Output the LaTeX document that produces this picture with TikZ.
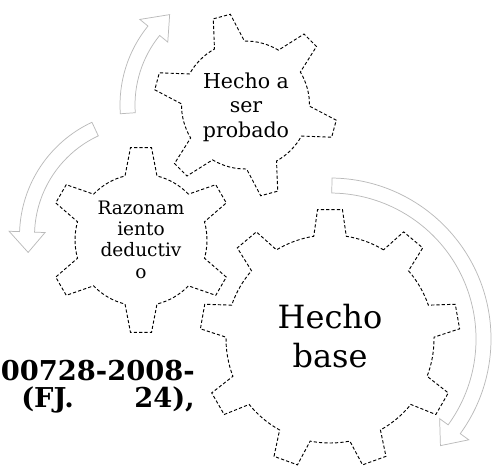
\documentclass[tikz,border=0pt]{standalone}
\usepackage{fontspec}
\setmainfont{DejaVu Serif}
\newcommand\gearshape[9]{% cx, cy, R, r, n, a0, tip half, base half, step
 \begin{scope}[shift={(#1,#2)}]
 \draw[gearline] ({-(#6-#9+#8)}:#4)
   \foreach \k in {1,...,#5}{
     arc[start angle={-(#6+(\k-1)*#9-#9+#8)}, end angle={-(#6+(\k-1)*#9-#8)}, radius=#4]
     -- ({-(#6+(\k-1)*#9-#7)}:#3) -- ({-(#6+(\k-1)*#9+#7)}:#3) -- ({-(#6+(\k-1)*#9+#8)}:#4)
   } -- cycle;
 \end{scope}}
\newcommand\circarrow[6]{% cx, cy, mid radius, start, end, tip
 \begin{scope}[shift={(#1,#2)}]
 \draw[arrowline] ({-(#4)}:{#3+7.5}) arc[start angle={-(#4)}, end angle={-(#5)}, radius={#3+7.5}]
   -- ({-(#5)}:{#3+18}) -- ({-(#6)}:#3) -- ({-(#5)}:{#3-18}) -- ({-(#5)}:{#3-7.5})
   arc[start angle={-(#5)}, end angle={-(#4)}, radius={#3-7.5}] -- cycle;
 \end{scope}}
\begin{document}
\begin{tikzpicture}[x=0.75pt,y=-0.75pt,
  gearline/.style={draw=black, fill=white, line width=0.7pt, dash pattern=on 2.4pt off 1.6pt, line join=miter},
  arrowline/.style={draw=black!27, line width=0.55pt, fill=white},
  geartext/.style={inner sep=0pt, anchor=base, text=black},
  bgtext/.style={inner sep=0pt, font=\bfseries\fontsize{20.5}{24}\selectfont}]
\useasboundingbox (0,0) rectangle (498,465);
\clip (0,0) rectangle (498,465);
% text of the page behind
\node[bgtext, anchor=base east] (l1) at (195,380) {00728-2008-};
\node[bgtext, anchor=base west] (l2a) at (21,407) {(FJ.};
\node[bgtext, anchor=base east] (l2b) at (195,407) {24),};
% arrows
\circarrow{330}{339}{153.5}{89.3}{-36}{-44}
\circarrow{145}{236}{118}{115}{178}{188}
\circarrow{245.5}{105}{118}{184}{141}{130}
% gears
\gearshape{141}{240}{93}{66}{6}{90}{6.5}{14}{60}
\gearshape{245.5}{105}{92}{64}{6}{105}{5.5}{14}{60}
\gearshape{330}{339}{130}{104}{9}{90}{5.5}{9}{40}
% gear texts
\node[geartext, font=\fontsize{15.4}{18.4}\selectfont] (tsmall) at (246,88)
  {\begin{tabular}[t]{@{}c@{}}Hecho a\\ser\\probado\end{tabular}};
\node[geartext, font=\fontsize{13.9}{16}\selectfont] (tmed) at (141,214)
  {\begin{tabular}[t]{@{}c@{}}Razonam\\iento\\deductiv\\o\end{tabular}};
\node[geartext, font=\fontsize{24}{29.25}\selectfont] (tlarge) at (330,328)
  {\begin{tabular}[t]{@{}c@{}}Hecho\\base\end{tabular}};
\end{tikzpicture}
\end{document}
